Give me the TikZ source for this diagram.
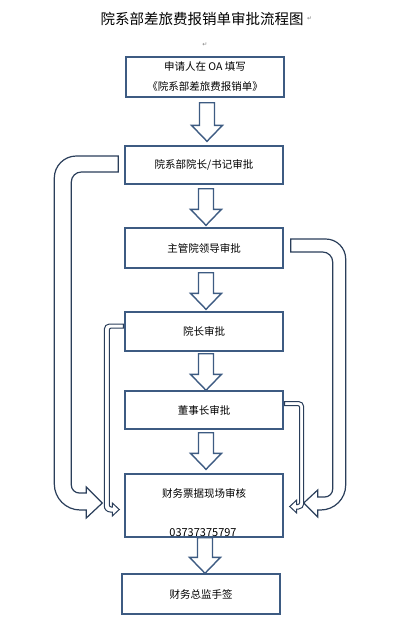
\documentclass[tikz,border=0pt]{standalone}
\usepackage{fontspec}
\setmainfont{Noto Sans CJK SC}
\newfontfamily\markfont{DejaVu Sans}
\usetikzlibrary{calc}

\definecolor{boxblue}{HTML}{3D5B82}
\definecolor{curvenavy}{HTML}{2A3E5A}

\tikzset{
  stepbox/.style={draw=boxblue, line width=1.4pt, minimum width=158pt, minimum height=40pt,
    inner sep=0pt, align=center, font=\fontsize{10.5}{20}\selectfont},
  downarrow/.style={draw=boxblue, line width=1.4pt, fill=white,
    to path={let \p1=(\tikztostart), \p2=(\tikztotarget) in
      (\x1-7.5pt,\y1) -- (\x1+7.5pt,\y1) -- (\x1+7.5pt,\y2+16pt) -- (\x1+15.5pt,\y2+16pt)
      -- (\x1,\y2) -- (\x1-15.5pt,\y2+16pt) -- (\x1-7.5pt,\y2+16pt) -- cycle}},
  uturn/.style={draw=curvenavy, line width=1.2pt, fill=white},
  retmark/.style={text=gray, font=\markfont\fontsize{6}{6}\selectfont, inner sep=0pt},
}

\begin{document}
\begin{tikzpicture}[x=1pt, y=-1pt]
    \useasboundingbox (0,0) rectangle (404,635);

    % Title
    \node[font=\fontsize{14.5}{17}\selectfont] (title) at (202,19) {院系部差旅费报销单审批流程图};
    \node[retmark, anchor=west] (titlemark) at (title.east) {↵};
    \node[retmark] (gapmark) at (205,45) {↵};

    % Approval steps
    \node[stepbox] (apply) at (205,77) {申请人在 OA 填写\\《院系部差旅费报销单》};
    \node[stepbox, minimum height=38pt] (dean) at (204,165) {院系部院长/书记审批};
    \node[stepbox] (leader) at (204,248) {主管院领导审批};
    \node[stepbox, minimum height=39pt] (president) at (204,331.5) {院长审批};
    \node[stepbox, minimum height=38pt] (chair) at (204,410) {董事长审批};
    \node[stepbox, minimum height=63pt] (audit) at (204,505.5) {};
    \node[font=\fontsize{10.5}{12}\selectfont] (audittext) at (204,493) {财务票据现场审核};
    \node[font=\fontsize{11}{12}\selectfont, inner sep=0pt] (phone) at (203,533) {03737375797};
    \node[stepbox] (cfo) at (201,594) {财务总监手签};

    % Block arrows down the main line
    \draw[downarrow] ([xshift=2pt,yshift=-5pt]apply.south) to ([xshift=2pt,yshift=4pt]dean.north);
    \draw[downarrow] ([xshift=2pt,yshift=-4pt]dean.south) to ([xshift=2pt,yshift=2pt]leader.north);
    \draw[downarrow] ([xshift=2pt,yshift=-4pt]leader.south) to ([xshift=2pt,yshift=2pt]president.north);
    \draw[downarrow] ([xshift=2pt,yshift=-2pt]president.south) to ([xshift=2pt]chair.north);
    \draw[downarrow] ([xshift=2pt,yshift=-3pt]chair.south) to ([xshift=2pt,yshift=4pt]audit.north);
    \draw[downarrow] ([xshift=1pt]audit.south) to ([xshift=4pt]cfo.north);

    % Left U-turn: dean straight to audit
    \draw[uturn] ([xshift=-6pt,yshift=9pt]dean.west)
        [rounded corners=22pt] -- ++(-64,0)
        [rounded corners=26pt] -- ++(0,354)
        [sharp corners] -- ++(32,0) -- ++(0,8) -- ++(16,-15) -- ++(-16,-16) -- ++(0,6)
        [rounded corners=8pt] -- ++(-15,0)
        [rounded corners=10pt] -- ++(0,-321)
        [sharp corners] -- ++(47,0) -- cycle;

    % Left thin U-turn: president to audit
    \draw[uturn, line width=1pt] ([xshift=-1pt,yshift=7.5pt]president.west)
        [rounded corners=5pt] -- ++(-19,0)
        [rounded corners=6pt] -- ++(0,188)
        [sharp corners] -- ++(8,0) -- ++(0,4) -- ++(7,-6.5) -- ++(-7,-6.5) -- ++(0,4)
        [rounded corners=2pt] -- ++(-3,0)
        -- ++(0,-179)
        [sharp corners] -- ++(14,0) -- cycle;

    % Right U-turn: leader straight to audit
    \draw[uturn] ([xshift=7pt,yshift=9pt]leader.east)
        [rounded corners=20pt] -- ++(55,0)
        [rounded corners=25pt] -- ++(0,271)
        [sharp corners] -- ++(-28,0) -- ++(0,7) -- ++(-14,-14) -- ++(14,-13) -- ++(0,7)
        [rounded corners=8pt] -- ++(15,0)
        [rounded corners=10pt] -- ++(0,-245)
        [sharp corners] -- ++(-42,0) -- cycle;

    % Right thin U-turn: chair to audit
    \draw[uturn, line width=1pt] ([xshift=1pt,yshift=8.5pt]chair.east)
        [rounded corners=5pt] -- ++(19,0)
        [rounded corners=5pt] -- ++(0,107.5)
        [sharp corners] -- ++(-7,0) -- ++(0,4) -- ++(-7,-6.5) -- ++(7,-6.5) -- ++(0,4.5)
        [rounded corners=2pt] -- ++(3,0)
        -- ++(0,-99)
        [sharp corners] -- ++(-15,0) -- cycle;
\end{tikzpicture}
\end{document}
